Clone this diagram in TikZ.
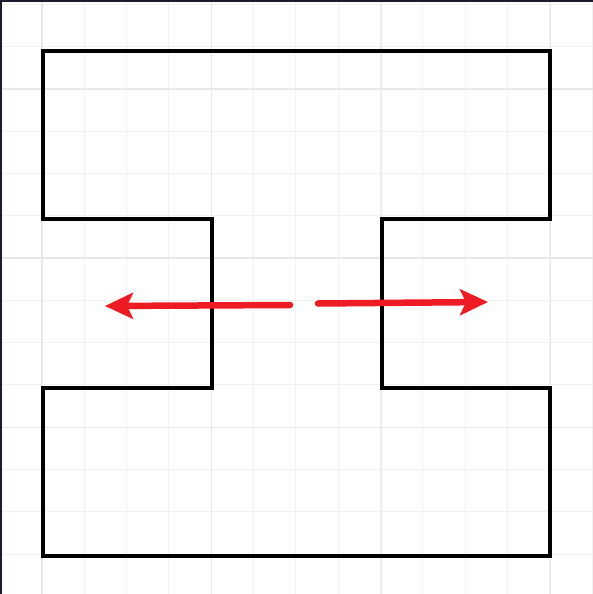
\documentclass[tikz,border=0pt]{standalone}
\usetikzlibrary{arrows.meta}
\definecolor{minorgrid}{HTML}{F2F2F2}
\definecolor{majorgrid}{HTML}{E7E7E7}
\definecolor{frame}{HTML}{1C1B2E}
\definecolor{arrowred}{HTML}{ED1C24}
\tikzset{
  minorline/.style={draw=minorgrid, line width=1pt},
  majorline/.style={draw=majorgrid, line width=1.4pt},
  outline/.style={draw=black, line width=3.6pt, miter limit=10},
  redarrow/.style={draw=arrowred, line width=6.5pt, line cap=round,
    -{Stealth[length=28pt, width=26pt, inset=6pt]}},
}
\begin{document}
\begin{tikzpicture}[x=1pt, y=-1pt]
\useasboundingbox (0,0) rectangle (593,594);
\fill[white] (0,0) rectangle (593,594);
% grid
\foreach \i in {0,...,13} {
  \pgfmathsetmacro{\gx}{42+\i*42.33}
  \draw[minorline] (\gx,0) -- (\gx,594);
}
\foreach \i in {-1,...,13} {
  \pgfmathsetmacro{\gy}{46.5+\i*42.3}
  \draw[minorline] (0,\gy) -- (593,\gy);
}
\foreach \gx in {42,211.7,381.3,550.6} {
  \draw[majorline] (\gx,0) -- (\gx,594);
}
\foreach \gy in {88.8,258,427.2} {
  \draw[majorline] (0,\gy) -- (593,\gy);
}
% frame edges
\fill[frame] (0,0) rectangle (593,2.5);
\fill[frame] (0,0) rectangle (2.2,594);
% outline shape
\draw[outline] (43,51) -- (550,51) -- (550,219) -- (382,219) -- (382,388)
  -- (550,388) -- (550,556) -- (43,556) -- (43,388) -- (212,388)
  -- (212,219) -- (43,219) -- cycle;
% arrows
\coordinate (ls) at (290,305);
\coordinate (le) at (105,306);
\coordinate (rs) at (318,303.5);
\coordinate (re) at (488,302);
\draw[redarrow] (ls) -- (le);
\draw[redarrow] (rs) -- (re);
\end{tikzpicture}
\end{document}
